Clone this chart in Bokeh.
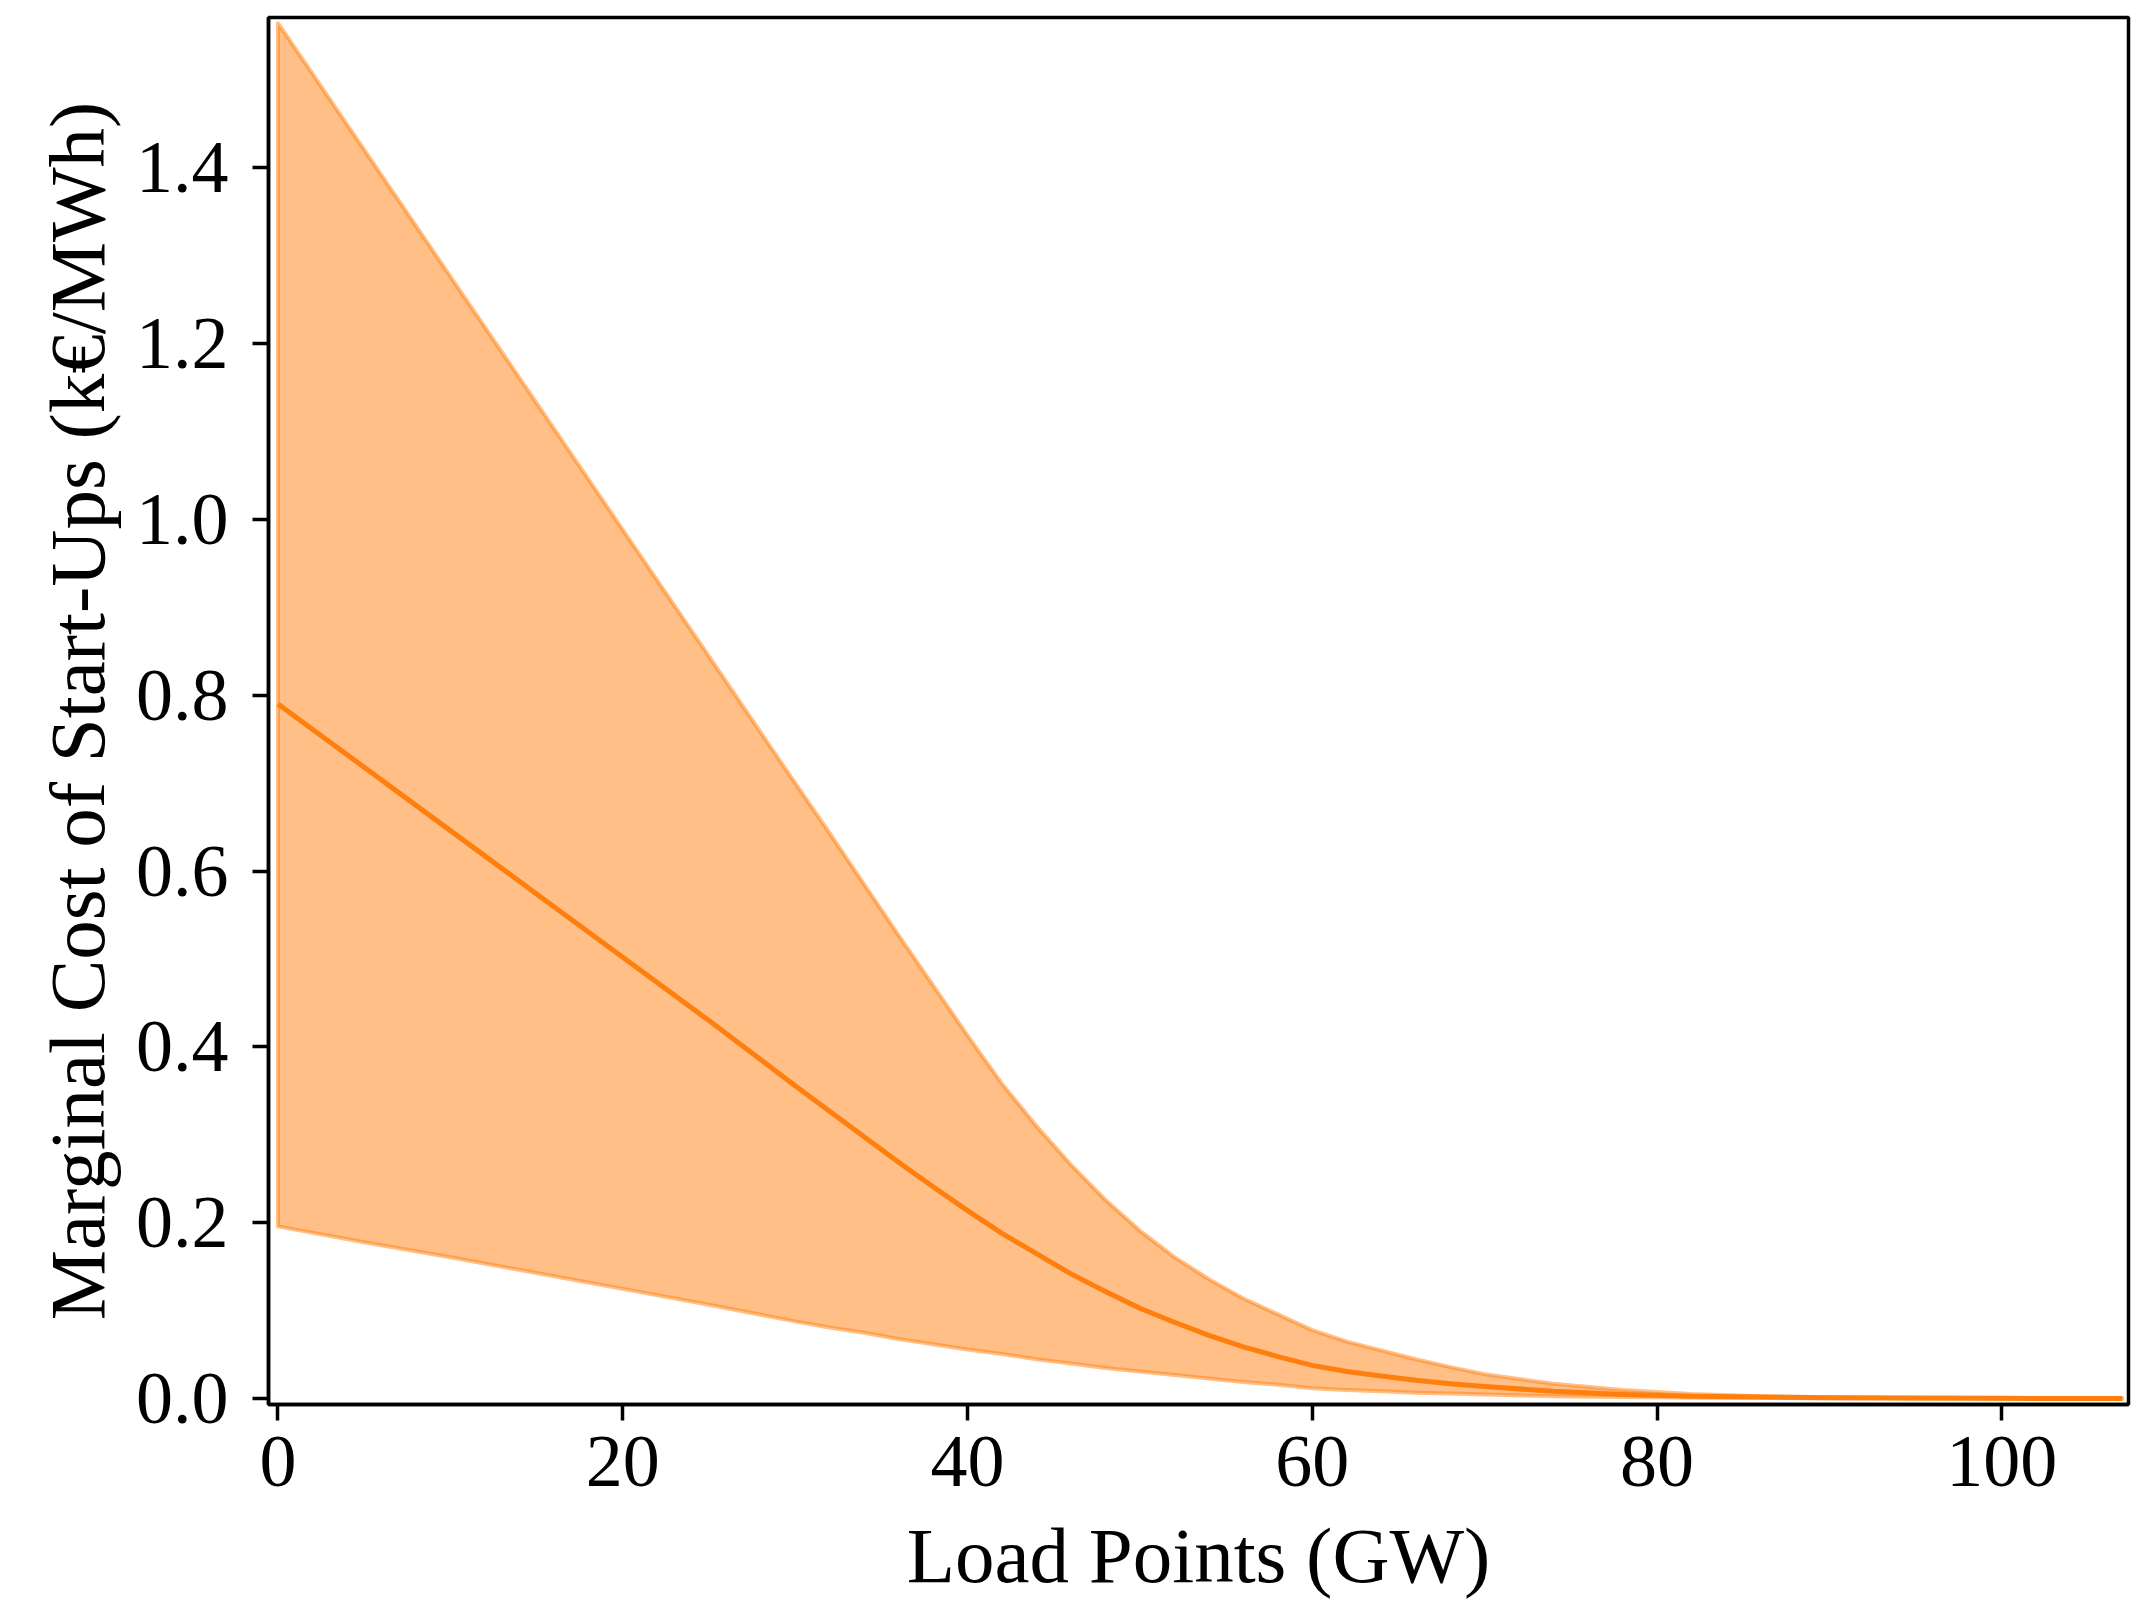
from bokeh.plotting import figure
from bokeh.models import Range1d, FixedTicker, CustomJSTickFormatter
from bokeh.embed import file_html
from bokeh.resources import INLINE

# Data
load_gw = [0, 5, 10, 15, 20, 25, 30, 32, 34, 36, 38, 40, 42, 44, 46, 48, 50,
           52, 54, 56, 58, 60, 62, 64, 66, 68, 70, 74, 78, 82, 86, 90, 95, 100, 107]
mean_cost = [0.790, 0.718, 0.646, 0.574, 0.502, 0.430, 0.356, 0.327, 0.298,
             0.269, 0.241, 0.214, 0.188, 0.165, 0.142, 0.122, 0.103, 0.087,
             0.072, 0.059, 0.048, 0.038, 0.031, 0.026, 0.021, 0.017, 0.014,
             0.0085, 0.005, 0.003, 0.002, 0.0012, 0.0008, 0.0005, 0.0003]
upper_cost = [1.564, 1.420, 1.276, 1.132, 0.988, 0.844, 0.700, 0.643, 0.585,
              0.527, 0.470, 0.413, 0.358, 0.310, 0.266, 0.226, 0.191, 0.161,
              0.136, 0.114, 0.096, 0.078, 0.065, 0.055, 0.045, 0.036, 0.028,
              0.017, 0.010, 0.0055, 0.003, 0.0018, 0.001, 0.0006, 0.0003]
lower_cost = [0.196, 0.178, 0.161, 0.143, 0.125, 0.107, 0.088, 0.081, 0.075,
              0.068, 0.062, 0.056, 0.051, 0.045, 0.040, 0.035, 0.031, 0.027,
              0.023, 0.019, 0.016, 0.012, 0.010, 0.0085, 0.007, 0.006, 0.005,
              0.003, 0.002, 0.0012, 0.0009, 0.0006, 0.0004, 0.0003, 0.0002]

x_ticks = [0, 20, 40, 60, 80, 100]
y_ticks = [0.0, 0.2, 0.4, 0.6, 0.8, 1.0, 1.2, 1.4]

FONT = "Liberation Serif"
ORANGE = "#ff7f0e"

p = figure(width=2153, height=1601, output_backend="svg", toolbar_location=None,
           x_range=Range1d(-0.55, 107.35), y_range=Range1d(-0.0065, 1.5705),
           min_border_left=268, min_border_right=25, min_border_top=17,
           min_border_bottom=197)
p.background_fill_color = "white"
p.border_fill_color = "white"
p.grid.visible = False
p.outline_line_color = "black"
p.outline_line_width = 3.5
p.outline_line_alpha = 1.0

# Confidence band (polygon: upper forward, lower backward)
band_x = list(load_gw) + list(reversed(load_gw))
band_y = list(upper_cost) + list(reversed(lower_cost))
p.patch(band_x, band_y, fill_color=ORANGE, fill_alpha=0.5,
        line_color=ORANGE, line_alpha=0.5, line_width=4, line_join="round")

# Mean curve
p.line(load_gw, mean_cost, line_color=ORANGE, line_width=5, line_join="round")

for ax in (p.xaxis[0], p.yaxis[0]):
    ax.axis_line_color = "black"
    ax.axis_line_width = 3.5
    ax.major_tick_line_color = "black"
    ax.major_tick_line_width = 3.5
    ax.major_tick_out = 16
    ax.major_tick_in = 0
    ax.minor_tick_line_color = None
    ax.major_label_text_font = FONT
    ax.major_label_text_font_size = "74px"
    ax.major_label_text_color = "black"
    ax.axis_label_text_font = FONT
    ax.axis_label_text_font_size = "79px"
    ax.axis_label_text_font_style = "normal"
    ax.axis_label_text_color = "black"

p.xaxis.ticker = FixedTicker(ticks=x_ticks)
p.yaxis.ticker = FixedTicker(ticks=y_ticks)
p.xaxis.formatter = CustomJSTickFormatter(code="return tick.toFixed(0);")
p.yaxis.formatter = CustomJSTickFormatter(code="return tick.toFixed(1);")

p.xaxis.axis_label = "Load Points (GW)"
p.yaxis.axis_label = "Marginal Cost of Start-Ups (k€/MWh)"
p.xaxis.major_label_standoff = 16
p.yaxis.major_label_standoff = 24
p.xaxis.axis_label_standoff = 23
p.yaxis.axis_label_standoff = 12

open("out.html", "w").write(file_html(p, INLINE))
